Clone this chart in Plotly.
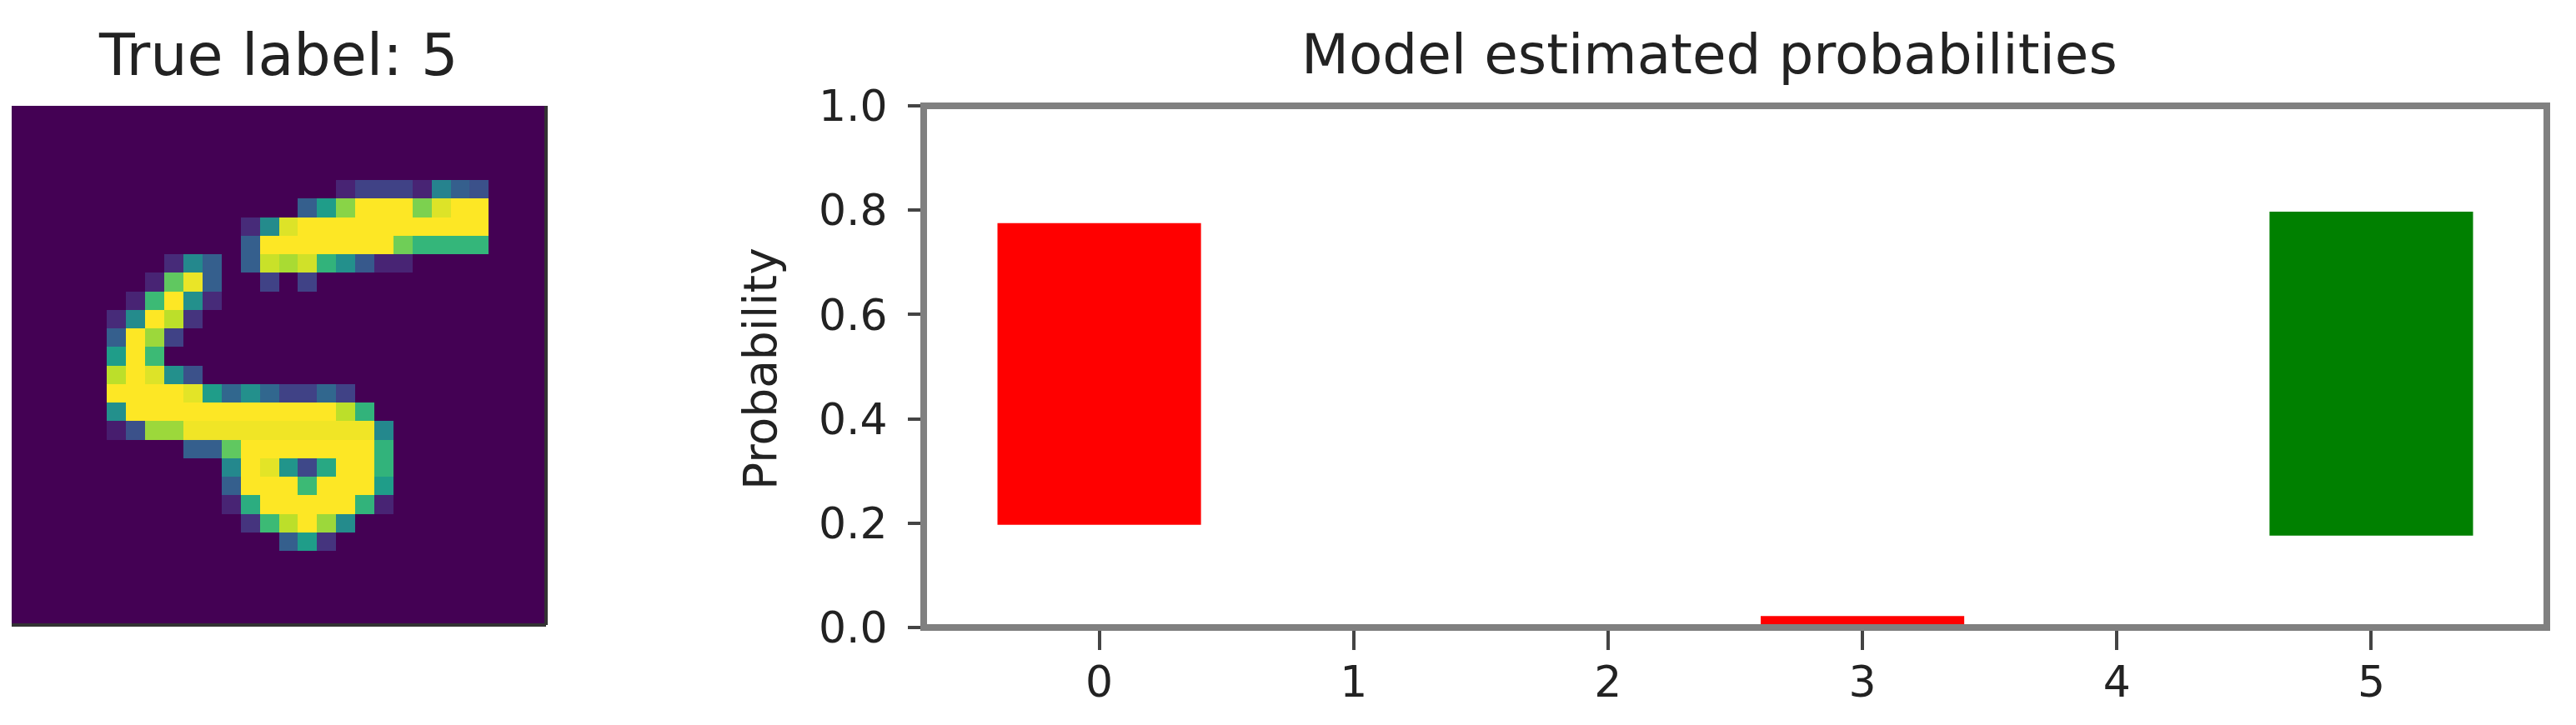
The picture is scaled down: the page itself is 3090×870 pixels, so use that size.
import plotly.graph_objects as go

# ---------------- data ----------------
# 28x28 digit image (intensity 0..1), rows top -> bottom
digit_rows = {
    4:  {17: 0.10, 18: 0.20, 19: 0.20, 20: 0.20, 21: 0.10, 22: 0.45, 23: 0.30, 24: 0.25},
    5:  {15: 0.30, 16: 0.55, 17: 0.82, 18: 1.0, 19: 1.0, 20: 1.0, 21: 0.80, 22: 0.95, 23: 1.0, 24: 1.0},
    6:  {12: 0.12, 13: 0.48, 14: 0.95, 15: 1.0, 16: 1.0, 17: 1.0, 18: 1.0, 19: 1.0, 20: 1.0, 21: 1.0, 22: 1.0, 23: 1.0, 24: 1.0},
    7:  {12: 0.30, 13: 1.0, 14: 1.0, 15: 1.0, 16: 1.0, 17: 1.0, 18: 1.0, 19: 1.0, 20: 0.78, 21: 0.66, 22: 0.66, 23: 0.66, 24: 0.66},
    8:  {8: 0.12, 9: 0.47, 10: 0.30, 12: 0.30, 13: 0.92, 14: 0.87, 15: 0.93, 16: 0.65, 17: 0.50, 18: 0.28, 19: 0.10, 20: 0.10},
    9:  {7: 0.10, 8: 0.75, 9: 0.97, 10: 0.30, 13: 0.20, 15: 0.20},
    10: {6: 0.10, 7: 0.68, 8: 1.0, 9: 0.50, 10: 0.12},
    11: {5: 0.12, 6: 0.48, 7: 1.0, 8: 0.90, 9: 0.15},
    12: {5: 0.30, 6: 1.0, 7: 0.85, 8: 0.20},
    13: {5: 0.55, 6: 1.0, 7: 0.68},
    14: {5: 0.90, 6: 1.0, 7: 0.95, 8: 0.50, 9: 0.25},
    15: {5: 1.0, 6: 1.0, 7: 1.0, 8: 1.0, 9: 0.96, 10: 0.55, 11: 0.33, 12: 0.50, 13: 0.33, 14: 0.20, 15: 0.20, 16: 0.33, 17: 0.20},
    16: {5: 0.50, 6: 1.0, 7: 1.0, 8: 1.0, 9: 1.0, 10: 1.0, 11: 1.0, 12: 1.0, 13: 1.0, 14: 1.0, 15: 1.0, 16: 1.0, 17: 0.90, 18: 0.65},
    17: {5: 0.08, 6: 0.25, 7: 0.85, 8: 0.85, 9: 0.98, 10: 0.98, 11: 0.98, 12: 0.98, 13: 0.98, 14: 0.98, 15: 0.98, 16: 0.98, 17: 0.98, 18: 0.98, 19: 0.47},
    18: {9: 0.30, 10: 0.30, 11: 0.75, 12: 1.0, 13: 1.0, 14: 1.0, 15: 1.0, 16: 1.0, 17: 1.0, 18: 1.0, 19: 0.65},
    19: {11: 0.47, 12: 1.0, 13: 0.96, 14: 0.52, 15: 0.22, 16: 0.60, 17: 1.0, 18: 1.0, 19: 0.65},
    20: {11: 0.30, 12: 1.0, 13: 1.0, 14: 1.0, 15: 0.68, 16: 1.0, 17: 1.0, 18: 1.0, 19: 0.55},
    21: {11: 0.10, 12: 0.62, 13: 1.0, 14: 1.0, 15: 1.0, 16: 1.0, 17: 1.0, 18: 0.65, 19: 0.10},
    22: {12: 0.15, 13: 0.68, 14: 0.90, 15: 1.0, 16: 0.85, 17: 0.48},
    23: {14: 0.30, 15: 0.55, 16: 0.15},
}
image = [[digit_rows.get(r, {}).get(c, 0.0) for c in range(28)] for r in range(28)]

true_label = 5
classes = [0, 1, 2, 3, 4, 5]
prob_low = [0.197, 0.0, 0.0, 0.0, 0.0, 0.176]
prob_high = [0.775, 0.0, 0.0, 0.022, 0.0, 0.797]
bar_colors = ["red", "red", "red", "red", "red", "green"]
y_ticks = [0.0, 0.2, 0.4, 0.6, 0.8, 1.0]

# ---------------- layout helpers ----------------
W, H = 3090, 870
OFF = 8  # default page body margin
def fx(px):
    return (px - OFF) / W
def fy(px):
    return 1 - (px - OFF) / H

FONT = "DejaVu Sans"
TXT = "#222222"

fig = go.Figure()

fig.add_trace(go.Heatmap(
    z=image, colorscale="Viridis", zmin=0, zmax=1, showscale=False,
    xaxis="x", yaxis="y", hoverinfo="skip",
))

fig.add_trace(go.Bar(
    x=classes,
    y=[h - l for h, l in zip(prob_high, prob_low)],
    base=prob_low,
    width=0.8,
    marker=dict(color=bar_colors, line=dict(width=0)),
    xaxis="x2", yaxis="y2",
))

fig.update_layout(
    width=W, height=H,
    margin=dict(l=0, r=0, t=0, b=0, autoexpand=False),
    paper_bgcolor="white", plot_bgcolor="white",
    showlegend=False,
    font=dict(family=FONT, color=TXT),
    xaxis=dict(domain=[fx(14), fx(655)], range=[-0.5, 27.5], anchor="y",
               showticklabels=False, ticks="", showgrid=False, zeroline=False,
               automargin=False),
    yaxis=dict(domain=[fy(750), fy(127)], range=[27.5, -0.5], anchor="x",
               showticklabels=False, ticks="", showgrid=False, zeroline=False,
               automargin=False),
    xaxis2=dict(domain=[fx(1108), fx(3055)], range=[-0.69, 5.69], anchor="y2",
                tickvals=classes, ticktext=[str(c) for c in classes],
                ticks="outside", ticklen=26, tickwidth=4, tickcolor="#444444",
                ticklabelstandoff=-6,
                tickfont=dict(size=52, family=FONT, color=TXT),
                showgrid=False, zeroline=False, showline=False, automargin=False),
    yaxis2=dict(domain=[fy(753), fy(127)], range=[0, 1], anchor="x2",
                tickvals=y_ticks, ticktext=[f"{v:.1f}" for v in y_ticks],
                ticks="outside", ticklen=18, tickwidth=4, tickcolor="#444444",
                ticklabelstandoff=14,
                tickfont=dict(size=52, family=FONT, color=TXT),
                showgrid=False, zeroline=False, showline=False, automargin=False),
    shapes=[
        dict(type="rect", xref="x2 domain", yref="y2 domain", x0=0, x1=1, y0=0, y1=1,
             line=dict(color="#808080", width=8), layer="above"),
        dict(type="line", xref="x domain", yref="y domain", x0=1, x1=1, y0=0, y1=1,
             line=dict(color="#333333", width=4), layer="above"),
        dict(type="line", xref="x domain", yref="y domain", x0=0, x1=1, y0=0, y1=0,
             line=dict(color="#333333", width=4), layer="above"),
    ],
    annotations=[
        dict(text=f"True label: {true_label}", xref="paper", yref="paper",
             x=fx(334), y=fy(66), xanchor="center", yanchor="middle",
             showarrow=False, font=dict(size=70, family=FONT, color=TXT)),
        dict(text="Model estimated probabilities", xref="paper", yref="paper",
             x=fx(2050), y=fy(66), xanchor="center", yanchor="middle",
             showarrow=False, font=dict(size=66, family=FONT, color=TXT)),
        dict(text="Probability", xref="paper", yref="paper",
             x=fx(912), y=fy(443), xanchor="center", yanchor="middle", textangle=-90,
             showarrow=False, font=dict(size=55, family=FONT, color=TXT)),
    ],
)

fig.write_html("out.html")
